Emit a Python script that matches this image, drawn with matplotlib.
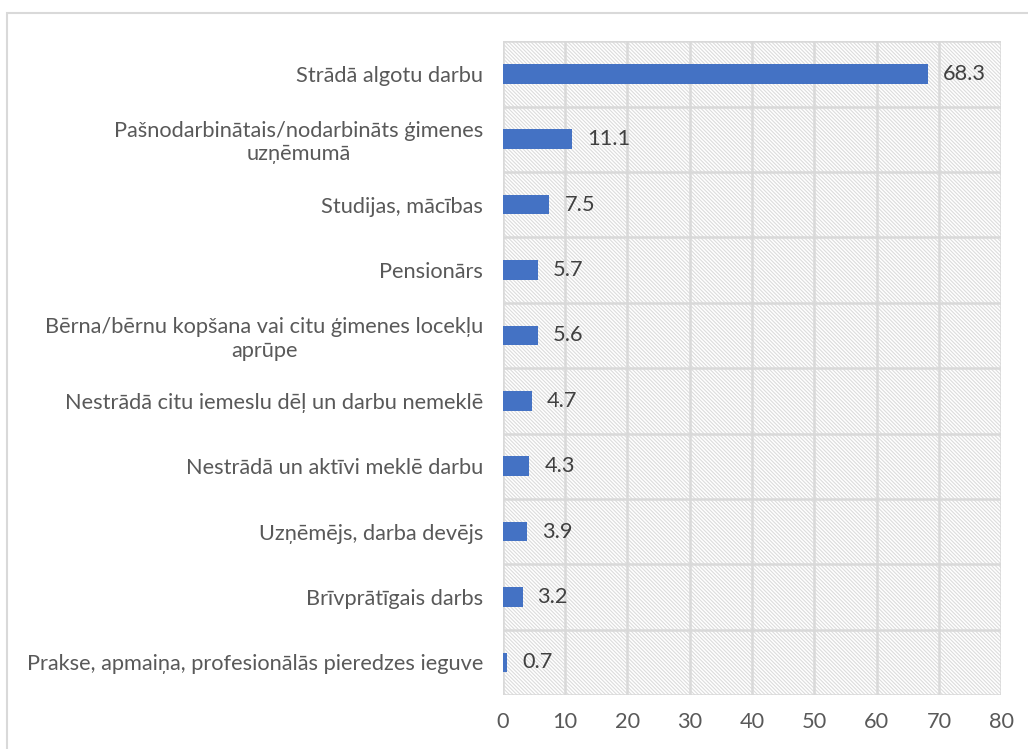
import matplotlib.pyplot as plt
import numpy as np
from matplotlib.patches import Rectangle

categories = [
    'Strādā algotu darbu',
    'Pašnodarbinātais/nodarbināts ģimenes\nuzņēmumā',
    'Studijas, mācības',
    'Pensionārs',
    'Bērna/bērnu kopšana vai citu ģimenes locekļu\naprūpe',
    'Nestrādā citu iemeslu dēļ un darbu nemeklē',
    'Nestrādā un aktīvi meklē darbu',
    'Uzņēmējs, darba devējs',
    'Brīvprātīgais darbs',
    'Prakse, apmaiņa, profesionālās pieredzes ieguve',
]
values = [68.3, 11.1, 7.5, 5.7, 5.6, 4.7, 4.3, 3.9, 3.2, 0.7]
xticks = [0, 10, 20, 30, 40, 50, 60, 70, 80]

plt.rcParams['font.family'] = ['Lato', 'DejaVu Sans']
plt.rcParams['hatch.linewidth'] = 0.8
text_color = '#595959'
grid_color = '#d9d9d9'
bar_color = '#4472c4'
fs = 15.7

fig = plt.figure(figsize=(10.28, 7.49), dpi=100)
ax = fig.add_axes([0.489, 0.072, 0.485, 0.873])

n = len(categories)
ypos = np.arange(n)[::-1]

ax.set_xlim(0, 80)
ax.set_ylim(-0.5, n - 0.5)

# hatched plot area
bg = Rectangle((0, -0.5), 80, n, facecolor='white', edgecolor='#dcdcdc',
               lw=0, hatch='\\' * 9, zorder=0)
ax.add_patch(bg)

# grid
for x in xticks:
    ax.axvline(x, color=grid_color, lw=1.8, zorder=1)
for y in np.arange(-0.5, n, 1.0):
    ax.axhline(y, color=grid_color, lw=1.8, zorder=1)

ax.barh(ypos, values, height=0.3, color=bar_color, zorder=3)
for y, v in zip(ypos, values):
    ax.text(v + 2.4, y, f'{v}', va='center', ha='left', fontsize=fs,
            color='#404040', zorder=4)

ax.set_yticks(ypos)
ax.set_yticklabels(categories, fontsize=fs, color=text_color, multialignment='center')
ax.set_xticks(xticks)
ax.set_xticklabels([str(x) for x in xticks], fontsize=fs, color=text_color)
ax.tick_params(axis='both', length=0)
ax.tick_params(axis='y', pad=14)
ax.tick_params(axis='x', pad=12)
for s in ax.spines.values():
    s.set_visible(False)

# chart border
border = Rectangle((7 / 1028, -0.1), 1.2, 1 - 13 / 749 + 0.1, transform=fig.transFigure,
                   facecolor='none', edgecolor=grid_color, lw=1.5, clip_on=False)
fig.patches.append(border)

fig.savefig('out.png', dpi=100)
